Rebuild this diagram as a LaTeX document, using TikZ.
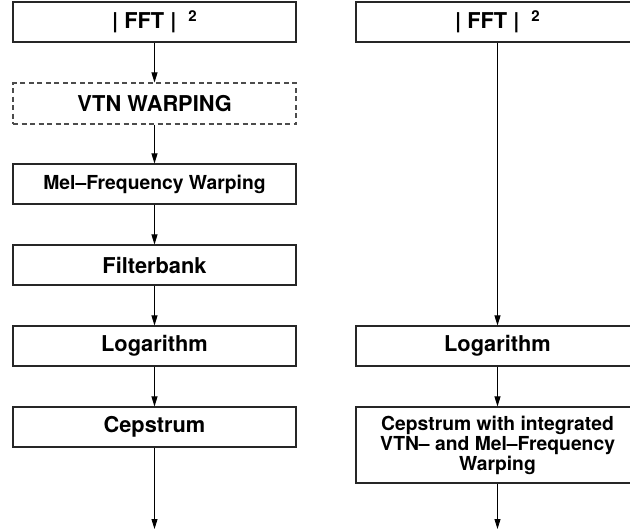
\documentclass[tikz,border=0pt]{standalone}
\usepackage{fontspec}
\setmainfont{TeX Gyre Heros}
\usetikzlibrary{arrows.meta}

\newcommand{\fftsq}{| FFT |\hspace{12pt}\raisebox{7pt}{\fontsize{15}{15}\selectfont 2}}

\begin{document}
\begin{tikzpicture}[x=1pt,y=1pt,
  stage/.style={draw=black!85,line width=1.1pt,minimum width=283pt,minimum height=40pt,
    inner sep=0pt,align=center,font=\fontsize{21.8}{24}\selectfont\bfseries},
  optstage/.style={stage,draw=black!70,dash pattern=on 5pt off 3.5pt,minimum height=41pt},
  smalltext/.style={font=\fontsize{19.3}{20}\selectfont\bfseries},
  flow/.style={-{Triangle[length=10pt,width=6pt]},line width=0.9pt}]
\useasboundingbox (0,0) rectangle (630,-531);
% left chain
\node[stage] (fftL) at (154.5,-22) {\fftsq};
\node[optstage] (vtn) at (154.5,-103.5) {VTN WARPING};
\node[stage,smalltext] (mel) at (154.5,-184) {Mel–Frequency Warping};
\node[stage] (fbank) at (154.5,-265) {Filterbank};
\node[stage] (logL) at (154.5,-346) {Logarithm};
\node[stage] (cepL) at (154.5,-427) {Cepstrum};
\coordinate (outL) at (154.5,-529);
% right chain
\node[stage] (fftR) at (497.5,-22) {\fftsq};
\node[stage] (logR) at (497.5,-346) {Logarithm};
\node[stage,smalltext,minimum height=76pt] (cepR) at (497.5,-445)
  {Cepstrum with integrated\\VTN– and Mel–Frequency\\Warping};
\coordinate (outR) at (497.5,-529);
% connectors
\draw[flow] (fftL) -- (vtn);
\draw[flow] (vtn) -- (mel);
\draw[flow] (mel) -- (fbank);
\draw[flow] (fbank) -- (logL);
\draw[flow] (logL) -- (cepL);
\draw[flow] (cepL) -- (outL);
\draw[flow] (fftR) -- (logR);
\draw[flow] (logR) -- (cepR);
\draw[flow] (cepR) -- (outR);
\end{tikzpicture}
\end{document}
